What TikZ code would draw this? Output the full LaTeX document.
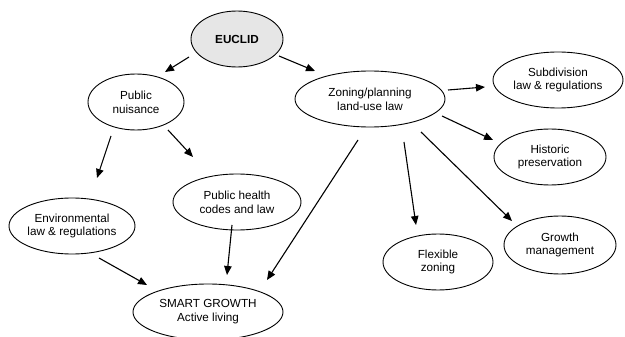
\documentclass[tikz,border=0pt]{standalone}
\usepackage{fontspec}
\setmainfont{Liberation Sans}
\usetikzlibrary{shapes.geometric,arrows.meta}
\definecolor{euclidgray}{RGB}{230,230,230}
\tikzset{
  oval/.style={ellipse, draw=black, line width=0.9pt, inner sep=0pt, outer sep=0pt,
    align=center, font=\fontsize{11.7}{13.8}\selectfont},
  arr/.style={line width=1.1pt, -{Triangle[length=9pt,width=7.5pt]}},
}
\begin{document}
\begin{tikzpicture}[x=1pt,y=-1pt]
\useasboundingbox (0,0) rectangle (625,337);
\node[oval, fill=euclidgray, minimum width=92pt, minimum height=56pt, font=\fontsize{11.7}{13.8}\selectfont\bfseries] (euclid) at (237,39) {EUCLID};
\node[oval, minimum width=96pt, minimum height=56pt] (pn) at (136,102) {Public\\nuisance};
\node[oval, minimum width=150pt, minimum height=56pt] (zon) at (370,99) {Zoning/planning\\land-use law};
\node[oval, minimum width=130pt, minimum height=56pt] (sub) at (558,80) {Subdivision\\law \& regulations};
\node[oval, minimum width=112pt, minimum height=56pt] (his) at (550,157) {Historic\\preservation};
\node[oval, minimum width=112pt, minimum height=58pt] (grow) at (560,245) {Growth\\management};
\node[oval, minimum width=110pt, minimum height=56pt] (flex) at (438,262) {Flexible\\zoning};
\node[oval, minimum width=128pt, minimum height=56pt] (ph) at (237,202) {Public health\\codes and law};
\node[oval, minimum width=124pt, minimum height=56pt] (env) at (72,226) {Environmental\\law \& regulations};
\node[oval, minimum width=150pt, minimum height=56pt] (smart) at (208,312) {SMART GROWTH\\Active living};

\draw[arr] ([shift={(-48,18)}]euclid.center) -- ([shift={(29,-30)}]pn.center);
\draw[arr] ([shift={(42,17)}]euclid.center) -- ([shift={(-55,-28)}]zon.center);
\draw[arr] ([shift={(-25,34)}]pn.center) -- ([shift={(25,-48)}]env.center);
\draw[arr] ([shift={(32,28)}]pn.center) -- ([shift={(-44,-45)}]ph.center);
\draw[arr] ([shift={(78,-9)}]zon.center) -- ([shift={(-73,7)}]sub.center);
\draw[arr] ([shift={(72,17)}]zon.center) -- ([shift={(-57,-17)}]his.center);
\draw[arr] ([shift={(-12,41)}]zon.center) -- ([shift={(59,-32)}]smart.center);
\draw[arr] ([shift={(34,43)}]zon.center) -- ([shift={(-22,-37)}]flex.center);
\draw[arr] ([shift={(51,33)}]zon.center) -- ([shift={(-48,-24)}]grow.center);
\draw[arr] ([shift={(27,32)}]env.center) -- ([shift={(-61,-27)}]smart.center);
\draw[arr] ([shift={(-5,23)}]ph.center) -- ([shift={(19,-37)}]smart.center);
\end{tikzpicture}
\end{document}
